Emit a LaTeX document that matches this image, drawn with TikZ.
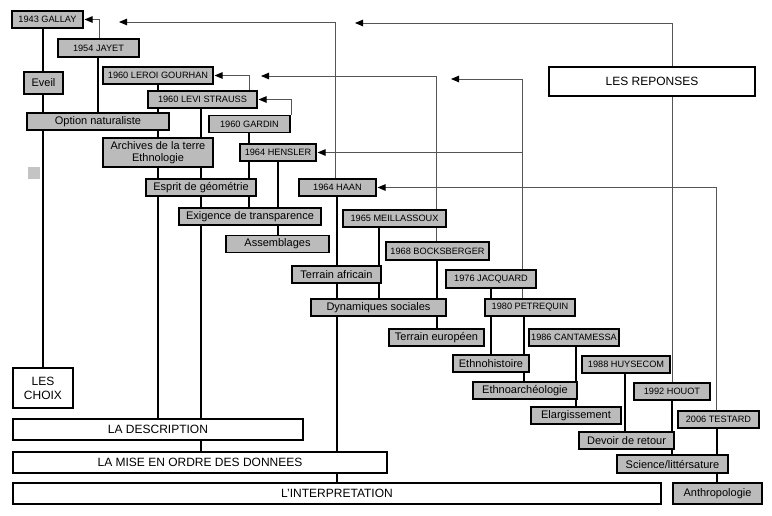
\documentclass[tikz,border=0pt]{standalone}
\usepackage{fontspec}
\setmainfont{Liberation Sans}
\usetikzlibrary{arrows.meta,backgrounds}
\definecolor{boxgray}{RGB}{187,187,187}
\definecolor{sqgray}{RGB}{196,196,196}
\definecolor{arrgray}{RGB}{85,85,85}
\tikzset{
  base/.style={draw=black, line width=1.1pt, inner sep=0pt, align=center, anchor=center},
  yearbox/.style={base, fill=boxgray, font=\fontsize{9.2}{11}\selectfont},
  ideabox/.style={base, fill=boxgray, font=\fontsize{11}{13}\selectfont},
  stagebox/.style={base, fill=white, font=\fontsize{12}{14}\selectfont},
  tree/.style={draw=black, line width=1.9pt},
  refline/.style={draw=arrgray, line width=0.9pt, shorten >=1pt,
    -{Triangle[length=8pt,width=6.5pt,color=black]}},
}
\newcommand\treeseg[3]{\draw[tree] (#1,0 |- #2.south) -- (#1,0 |- #3.north);}
\begin{document}
\begin{tikzpicture}[x=1pt,y=-1pt]
\useasboundingbox (0,0) rectangle (772,515);

% gray boxes (years)
\node[yearbox, minimum width=71pt, minimum height=17pt] (gallay) at (47.5,19.5) {1943 GALLAY};
\node[yearbox, minimum width=81pt, minimum height=18pt] (jayet) at (98.5,48) {1954 JAYET};
\node[yearbox, minimum width=110pt, minimum height=17pt] (leroi) at (158,75.5) {1960 LEROI GOURHAN};
\node[yearbox, minimum width=109pt, minimum height=17pt] (levi) at (202.5,99.5) {1960 LEVI STRAUSS};
\node[yearbox, minimum width=81pt, minimum height=17pt] (gardin) at (249.5,124) {1960 GARDIN};
\node[yearbox, minimum width=76pt, minimum height=17pt] (hensler) at (278,152.5) {1964 HENSLER};
\node[yearbox, minimum width=77pt, minimum height=17pt] (haan) at (337.5,187.5) {1964 HAAN};
\node[yearbox, minimum width=103pt, minimum height=17pt] (meill) at (394.5,218.5) {1965 MEILLASSOUX};
\node[yearbox, minimum width=103pt, minimum height=18pt] (bocks) at (437.5,251) {1968 BOCKSBERGER};
\node[yearbox, minimum width=90pt, minimum height=18pt] (jacquard) at (491,279) {1976 JACQUARD};
\node[yearbox, minimum width=90pt, minimum height=17pt] (petrequin) at (530,307.5) {1980 PETREQUIN};
\node[yearbox, minimum width=90pt, minimum height=17pt] (cantamessa) at (574,337.5) {1986 CANTAMESSA};
\node[yearbox, minimum width=88pt, minimum height=17pt] (huysecom) at (626,364.5) {1988 HUYSECOM};
\node[yearbox, minimum width=76pt, minimum height=17pt] (houot) at (672,391.5) {1992 HOUOT};
\node[yearbox, minimum width=81pt, minimum height=17pt] (testard) at (718.5,419.5) {2006 TESTARD};

% gray boxes (ideas)
\node[ideabox, minimum width=39pt, minimum height=22pt] (eveil) at (43.5,83) {Eveil};
\node[ideabox, minimum width=142pt, minimum height=17pt] (option) at (98,121.5) {Option naturaliste};
\node[ideabox, minimum width=110pt, minimum height=29pt] (archives) at (158,152.5) {Archives de la terre\\[-1.5pt]Ethnologie};
\node[ideabox, minimum width=110pt, minimum height=17pt] (esprit) at (201,187.5) {Esprit de géométrie};
\node[ideabox, minimum width=142pt, minimum height=17pt] (exigence) at (250,216.5) {Exigence de transparence};
\node[ideabox, minimum width=103pt, minimum height=17pt] (assemblages) at (277.5,244) {Assemblages};
\node[ideabox, minimum width=89pt, minimum height=17pt] (tafricain) at (336.5,274.5) {Terrain africain};
\node[ideabox, minimum width=135pt, minimum height=17pt] (dynamiques) at (378.5,307.5) {Dynamiques sociales};
\node[ideabox, minimum width=95pt, minimum height=17pt] (teuropeen) at (436.5,337.5) {Terrain européen};
\node[ideabox, minimum width=76pt, minimum height=17pt] (ethnohist) at (491,363.5) {Ethnohistoire};
\node[ideabox, minimum width=104pt, minimum height=17pt] (ethnoarch) at (525,390.5) {Ethnoarchéologie};
\node[ideabox, minimum width=90pt, minimum height=17pt] (elarg) at (576,415.5) {Elargissement};
\node[ideabox, minimum width=95pt, minimum height=17pt] (devoir) at (626.5,440.5) {Devoir de retour};
\node[ideabox, minimum width=111pt, minimum height=18pt] (science) at (672.5,464) {Science/littérsature};
\node[ideabox, minimum width=89pt, minimum height=21pt] (anthro) at (717.5,493.5) {Anthropologie};

% white stage boxes
\node[stagebox, minimum width=60pt, minimum height=40pt] (choix) at (43,388) {LES\\CHOIX};
\node[stagebox, minimum width=290pt, minimum height=21pt] (descr) at (158,429.5) {LA DESCRIPTION};
\node[stagebox, minimum width=374pt, minimum height=21pt] (mise) at (200,462.5) {LA MISE EN ORDRE DES DONNEES};
\node[stagebox, minimum width=648pt, minimum height=21pt] (interp) at (337,493.5) {L'INTERPRETATION};
\node[stagebox, minimum width=206pt, minimum height=29pt] (reponses) at (652,81.5) {LES REPONSES};

% small square
\node[fill=sqgray, minimum size=12pt, inner sep=0pt] (sq) at (34,173) {};

% free arrow ends
\coordinate (a2) at (118,22);
\coordinate (a3) at (354,23);
\coordinate (a5) at (260,76);
\coordinate (a6) at (450,79);

\begin{pgfonlayer}{background}
% tree lines
\treeseg{43}{gallay}{eveil}
\treeseg{43}{eveil}{option}
\treeseg{43}{option}{choix}
\treeseg{98}{jayet}{option}
\treeseg{158}{leroi}{levi}
\treeseg{158}{levi}{option}
\treeseg{158}{option}{archives}
\treeseg{158}{archives}{esprit}
\treeseg{158}{esprit}{descr}
\treeseg{201}{levi}{archives}
\treeseg{201}{archives}{esprit}
\treeseg{201}{esprit}{exigence}
\treeseg{201}{exigence}{descr}
\treeseg{201}{descr}{mise}
\treeseg{249}{gardin}{hensler}
\treeseg{249}{hensler}{esprit}
\treeseg{249}{esprit}{exigence}
\treeseg{278}{hensler}{exigence}
\treeseg{278}{exigence}{assemblages}
\treeseg{337}{haan}{tafricain}
\treeseg{337}{tafricain}{dynamiques}
\treeseg{337}{dynamiques}{mise}
\treeseg{337}{mise}{interp}
\treeseg{379}{meill}{tafricain}
\treeseg{379}{tafricain}{dynamiques}
\treeseg{437}{bocks}{dynamiques}
\treeseg{437}{dynamiques}{teuropeen}
\treeseg{491}{jacquard}{petrequin}
\treeseg{491}{petrequin}{ethnohist}
\treeseg{524}{petrequin}{ethnohist}
\treeseg{524}{ethnohist}{ethnoarch}
\treeseg{576}{cantamessa}{ethnoarch}
\treeseg{576}{ethnoarch}{elarg}
\treeseg{625}{huysecom}{devoir}
\treeseg{672}{houot}{devoir}
\treeseg{672}{devoir}{science}
\treeseg{717}{testard}{science}
\treeseg{717}{science}{anthro}

% reference arrows
\draw[refline] (99,0 |- jayet.north) |- (gallay.east);
\draw[refline] (335,0 |- haan.north) |- (a2);
\draw[refline] (672,0 |- houot.north) |- (a3);
\draw[refline] (249,0 |- levi.north) |- (leroi.east);
\draw[refline] (436,0 |- bocks.north) |- (a5);
\draw[refline] (522,0 |- petrequin.north) |- (a6);
\draw[refline] (522,0 |- hensler.east) -- (hensler.east);
\draw[refline] (716,0 |- testard.north) |- (haan.east);
\draw[refline] (291,0 |- gardin.north) |- (levi.east);
\end{pgfonlayer}
\end{tikzpicture}
\end{document}
